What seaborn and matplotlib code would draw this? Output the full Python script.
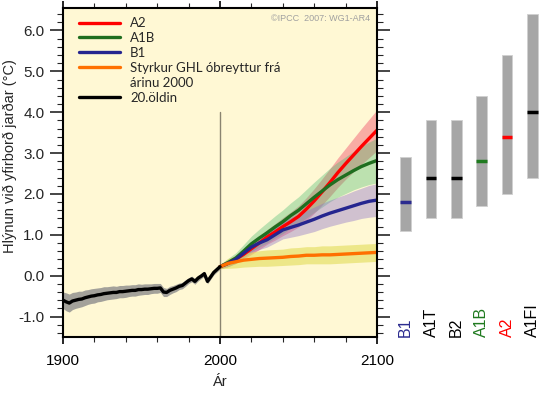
import numpy as np
import pandas as pd
import matplotlib.pyplot as plt
import seaborn as sns
from matplotlib.lines import Line2D
from matplotlib.ticker import MultipleLocator, FormatStrFormatter

# 20th century observations/model mean (2-year steps) and band half-width
hist_years = list(range(1900, 2001, 2))
hist_mean = [-0.60, -0.64, -0.67, -0.62, -0.60, -0.58, -0.57, -0.54, -0.52, -0.50,
             -0.49, -0.47, -0.46, -0.44, -0.43, -0.42, -0.41, -0.41, -0.39, -0.39,
             -0.38, -0.37, -0.36, -0.36, -0.34, -0.34, -0.33, -0.33, -0.32, -0.31,
             -0.31, -0.30, -0.40, -0.41, -0.36, -0.33, -0.30, -0.26, -0.24, -0.18,
             -0.12, -0.08, -0.14, -0.06, -0.01, 0.05, -0.14, -0.03, 0.08, 0.15, 0.22]
hist_spread = [0.20, 0.22, 0.22, 0.21, 0.20, 0.20, 0.19, 0.19, 0.18, 0.18,
               0.18, 0.17, 0.17, 0.17, 0.16, 0.16, 0.16, 0.15, 0.15, 0.15,
               0.15, 0.14, 0.14, 0.14, 0.14, 0.13, 0.13, 0.13, 0.12, 0.12,
               0.12, 0.11, 0.11, 0.10, 0.10, 0.09, 0.09, 0.08, 0.08, 0.08,
               0.07, 0.07, 0.07, 0.07, 0.06, 0.06, 0.06, 0.06, 0.06, 0.06, 0.06]

# scenario projections (5-year steps)
proj_years = list(range(2000, 2101, 5))
a2_mean = [0.22, 0.30, 0.40, 0.52, 0.66, 0.80, 0.95, 1.07, 1.20, 1.32, 1.45,
           1.63, 1.83, 2.05, 2.28, 2.52, 2.74, 2.95, 3.16, 3.36, 3.56]
a2_spread = [0.05, 0.08, 0.10, 0.12, 0.14, 0.16, 0.18, 0.20, 0.22, 0.24, 0.26,
             0.28, 0.30, 0.32, 0.34, 0.36, 0.38, 0.41, 0.44, 0.47, 0.50]
a1b_mean = [0.22, 0.32, 0.43, 0.60, 0.78, 0.92, 1.05, 1.19, 1.32, 1.47, 1.60,
            1.76, 1.92, 2.07, 2.22, 2.35, 2.46, 2.57, 2.67, 2.75, 2.82]
a1b_spread = [0.05, 0.10, 0.13, 0.16, 0.19, 0.22, 0.25, 0.27, 0.29, 0.31, 0.33,
              0.35, 0.37, 0.39, 0.41, 0.43, 0.45, 0.47, 0.50, 0.52, 0.55]
b1_mean = [0.22, 0.30, 0.40, 0.55, 0.70, 0.80, 0.88, 1.00, 1.12, 1.18, 1.24,
           1.31, 1.38, 1.46, 1.53, 1.59, 1.65, 1.71, 1.77, 1.82, 1.85]
b1_spread = [0.05, 0.08, 0.10, 0.12, 0.14, 0.16, 0.18, 0.20, 0.22, 0.24, 0.26,
             0.28, 0.30, 0.31, 0.32, 0.33, 0.34, 0.36, 0.37, 0.39, 0.40]
commit_mean = [0.22, 0.30, 0.34, 0.38, 0.40, 0.42, 0.43, 0.44, 0.45, 0.47, 0.48,
               0.50, 0.50, 0.51, 0.51, 0.52, 0.53, 0.54, 0.55, 0.56, 0.57]
commit_spread = [0.05, 0.12, 0.15, 0.17, 0.18, 0.19, 0.20, 0.20, 0.20, 0.21, 0.21,
                 0.21, 0.21, 0.22, 0.22, 0.22, 0.22, 0.22, 0.22, 0.22, 0.22]

# likely ranges at 2090-2099 for six marker scenarios
bar_labels = ['B1', 'A1T', 'B2', 'A1B', 'A2', 'A1FI']
bar_best = [1.8, 2.4, 2.4, 2.8, 3.4, 4.0]
bar_low = [1.1, 1.4, 1.4, 1.7, 2.0, 2.4]
bar_high = [2.9, 3.8, 3.8, 4.4, 5.4, 6.4]
bar_colors = ['#2b2b8f', 'black', 'black', '#1f7a1f', '#ff0000', 'black']

sns.set_theme(style='ticks')
plt.rcParams['font.family'] = ['Liberation Sans', 'DejaVu Sans']

fig = plt.figure(figsize=(5.4, 3.94), dpi=100)
ax = fig.add_axes([0.1167, 0.1447, 0.5815, 0.835])
ax.set_facecolor('#fff8d4')

series = [
    ('A2', a2_mean, a2_spread, '#ff0000', '#f0506a', 0.45),
    ('A1B', a1b_mean, a1b_spread, '#1f6e1f', '#40b86a', 0.35),
    ('B1', b1_mean, b1_spread, '#25258f', '#8a70c8', 0.40),
    ('Styrkur GHL óbreyttur frá', commit_mean, commit_spread, '#ff7000', '#e2dc58', 0.60),
]

# shaded +-1 sd bands
ax.fill_between(hist_years, np.array(hist_mean) - np.array(hist_spread),
                np.array(hist_mean) + np.array(hist_spread),
                color='#8c8c8c', alpha=0.8, lw=0)
for name, m, s, lc, fc, a in series:
    m = np.array(m)
    s = np.array(s)
    ax.fill_between(proj_years, m - s, m + s, color=fc, alpha=a, lw=0)

ax.plot([2000, 2000], [-1.5, 4.0], color='#8a8470', lw=1.0)

for name, m, s, lc, fc, a in series:
    sns.lineplot(x=proj_years, y=m, color=lc, lw=2.4, ax=ax, label=name)
sns.lineplot(x=hist_years, y=hist_mean, color='black', lw=2.4, ax=ax, label='20.öldin')

ax.set_xlim(1900, 2100)
ax.set_ylim(-1.5, 6.55)
ax.xaxis.set_major_locator(MultipleLocator(100))
ax.xaxis.set_minor_locator(MultipleLocator(20))
ax.yaxis.set_major_locator(MultipleLocator(1.0))
ax.yaxis.set_minor_locator(MultipleLocator(0.2))
ax.yaxis.set_major_formatter(FormatStrFormatter('%.1f'))
ax.tick_params(axis='x', which='major', direction='out', length=5, width=1.2,
               top=True, labelsize=11, pad=7, colors='black')
ax.tick_params(axis='x', which='minor', direction='out', length=3.5, width=0.8, top=True)
ax.tick_params(axis='y', which='major', direction='out', length=9.5, width=1.2,
               right=True, labelsize=11, pad=4)
ax.tick_params(axis='y', which='minor', direction='out', length=4.5, width=0.8, right=True)
for sp in ax.spines.values():
    sp.set_linewidth(1.5)
    sp.set_color('black')

ax.set_xlabel('Ár', fontsize=10.5, labelpad=5)
ax.set_ylabel('Hlýnun við yfirborð jarðar (°C)', fontsize=10.5)
ax.yaxis.set_label_coords(-0.148, 0.55)

ax.text(0.978, 0.982, '©IPCC  2007: WG1-AR4', transform=ax.transAxes,
        ha='right', va='top', color='#a0a0a0', fontsize=6.5)

# legend with an extra blank row for the wrapped label
h, l = ax.get_legend_handles_labels()
blank = Line2D([], [], color='none')
handles = h[:4] + [blank, h[4]]
labels = l[:4] + ['árinu 2000', l[4]]
ax.legend(handles, labels, loc='upper left', bbox_to_anchor=(0.05, 0.972),
          frameon=False, borderaxespad=0, borderpad=0,
          handlelength=3.1, handletextpad=0.8, labelspacing=0.22,
          prop={'family': ['Lato', 'DejaVu Sans'], 'size': 9.5})

# right-hand panel of likely ranges
bx = fig.add_axes([393 / 540, 0.1447, 147 / 540, 0.835], sharey=ax)
bx.patch.set_alpha(0)
pos = np.arange(len(bar_labels))
heights = np.array(bar_high) - np.array(bar_low)
bx.bar(pos, heights, bottom=bar_low, width=0.42, color='#a6a6a6',
       edgecolor='#d0d0d0', lw=0.6)
bx.hlines(bar_best, pos - 0.21, pos + 0.21, colors=bar_colors, lw=2.5)
for i, lab in enumerate(bar_labels):
    bx.text(i, -1.5, lab, rotation=90, ha='center', va='bottom',
            color=bar_colors[i], fontsize=11.5)
bx.set_xlim(-0.5, 5.3)
bx.set_ylim(-1.5, 6.55)
bx.axis('off')

fig.savefig('out.png', dpi=100)
